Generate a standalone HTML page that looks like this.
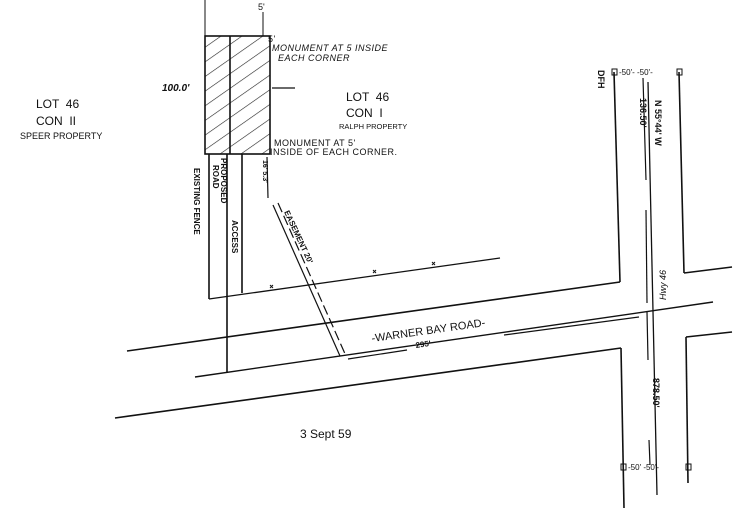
<!DOCTYPE html>
<html><head><meta charset="utf-8"><style>
html,body{margin:0;padding:0;background:#fff;}
svg{display:block;}
text{font-family:"Liberation Sans",sans-serif;fill:#111;}
.h{font-family:"Liberation Sans",sans-serif;font-size:9px;letter-spacing:0.5px;}
</style></head><body>
<svg width="750" height="524" viewBox="0 0 750 524" xmlns="http://www.w3.org/2000/svg">
<defs>
<pattern id="hatch" patternUnits="userSpaceOnUse" width="12" height="12" patternTransform="rotate(-35)">
<line x1="0" y1="0" x2="12" y2="0" stroke="#222" stroke-width="1.2"/>
</pattern>
</defs>
<g stroke="#111" fill="none" stroke-width="1.6">
<rect x="205" y="36" width="65" height="118" fill="url(#hatch)"/>
<line x1="230" y1="36" x2="230" y2="154"/>
<line x1="205" y1="0" x2="205" y2="36" stroke-width="1"/>
<line x1="263" y1="12" x2="263" y2="36" stroke-width="1"/>
<line x1="272" y1="88" x2="295" y2="88" stroke-width="1.2"/>
<line x1="209" y1="154" x2="209" y2="299"/>
<line x1="227" y1="154" x2="227" y2="373"/>
<line x1="242" y1="154" x2="242" y2="293"/>
<path d="M209 299 L500 258" stroke-width="1.3"/>
<line x1="267" y1="157" x2="268" y2="198" stroke-width="1.2"/>
<line x1="273" y1="205" x2="340" y2="356" stroke-width="1.2"/>
<line x1="278" y1="203" x2="346" y2="356" stroke-width="1.2" stroke-dasharray="10 4"/>
<line x1="127" y1="351" x2="620" y2="282"/>
<line x1="195" y1="377" x2="713" y2="302" stroke-width="1.4"/>
<line x1="348" y1="359" x2="407" y2="350" stroke-width="1.2"/>
<line x1="504" y1="335" x2="639" y2="317" stroke-width="1.2"/>
<line x1="115" y1="418" x2="621" y2="348"/>
<line x1="684" y1="273" x2="732" y2="267"/>
<line x1="686" y1="337" x2="732" y2="332"/>
<polyline points="614,72 620,282"/>
<polyline points="621,348 624,508"/>
<polyline points="679,72 684,273"/>
<polyline points="686,337 688,483"/>
<line x1="648" y1="82" x2="657" y2="495" stroke-width="1.3"/>
<line x1="643" y1="78" x2="646" y2="180" stroke-width="1.2"/>
<line x1="646" y1="210" x2="647" y2="303" stroke-width="1.2"/>
<line x1="647" y1="312" x2="648" y2="360" stroke-width="1.2"/>
<line x1="649" y1="440" x2="650" y2="465" stroke-width="1.2"/>
<rect x="612" y="69" width="5" height="6" stroke-width="1"/>
<rect x="677" y="69" width="5" height="6" stroke-width="1"/>
<rect x="621" y="464" width="5" height="6" stroke-width="1"/>
<rect x="686" y="464" width="5" height="6" stroke-width="1"/>
</g>
<g stroke="#111" stroke-width="1" fill="none">
<path d="M270 288 l3 -3 M273 288 l-3 -3 M373 273 l3 -3 M376 273 l-3 -3 M432 265 l3 -3 M435 265 l-3 -3"/>
</g>
<text x="258" y="10" font-size="9">5'</text>
<text class="h" x="268" y="42">5'</text>
<text class="h" x="272" y="51" font-style="italic">MONUMENT AT 5 INSIDE</text>
<text class="h" x="278" y="61" font-style="italic">EACH CORNER</text>
<text x="162" y="91" font-size="10" font-style="italic" font-weight="bold">100.0'</text>
<text class="h" x="274" y="146">MONUMENT AT 5'</text>
<text class="h" x="270" y="155">INSIDE OF EACH CORNER.</text>
<text x="36" y="108" font-size="12">LOT &#160;46</text>
<text x="36" y="125" font-size="12">CON &#160;II</text>
<text x="20" y="139" font-size="9">SPEER PROPERTY</text>
<text x="346" y="101" font-size="12">LOT &#160;46</text>
<text x="346" y="117" font-size="12">CON &#160;I</text>
<text x="339" y="129" font-size="7.5">RALPH PROPERTY</text>
<text transform="translate(194,168) rotate(90)" font-size="8" font-weight="bold">EXISTING FENCE</text>
<text transform="translate(221,158) rotate(90)" font-size="8" font-weight="bold">PROPOSED</text>
<text transform="translate(213,165) rotate(90)" font-size="8" font-weight="bold">ROAD</text>
<text transform="translate(232,220) rotate(90)" font-size="8" font-weight="bold">ACCESS</text>
<text transform="translate(263,160) rotate(90)" font-size="7" font-weight="bold">16' 5.3'</text>
<text transform="translate(284,212) rotate(65)" font-size="8" font-weight="bold">EASEMENT 20'</text>
<text transform="translate(372,342) rotate(-8)" font-size="11">-WARNER BAY ROAD-</text>
<text transform="translate(416,348) rotate(-8)" font-size="8" font-weight="bold">295'</text>
<text x="300" y="438" font-size="12">3 Sept 59</text>
<text transform="translate(598,70) rotate(90)" font-size="9" font-weight="bold">DFH</text>
<text transform="translate(655,100) rotate(90)" font-size="9" font-weight="bold">N 55°44' W</text>
<text transform="translate(640,98) rotate(90)" font-size="9" font-weight="bold">136.50'</text>
<text transform="translate(666,300) rotate(-90)" font-size="9" font-style="italic">Hwy 46</text>
<text transform="translate(653,378) rotate(90)" font-size="9" font-weight="bold">878.50'</text>
<text x="619" y="75" font-size="8">-50'- -50'-</text>
<text x="628" y="470" font-size="8">-50' -50'-</text>
</svg>
</body></html>
